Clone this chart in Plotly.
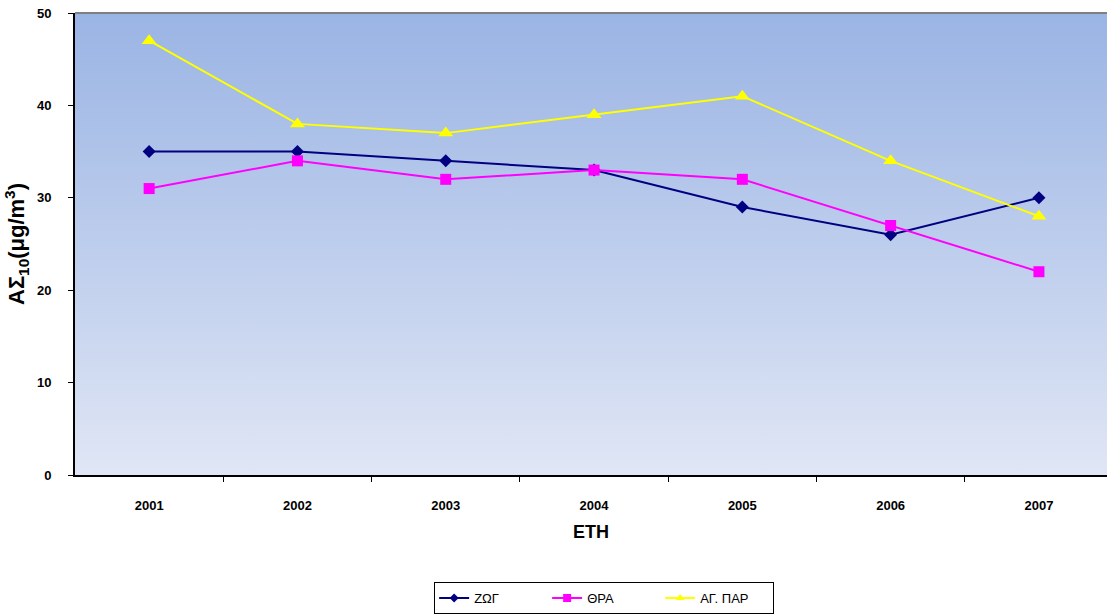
import plotly.graph_objects as go

# Annual mean PM10 concentrations per station
years = ["2001", "2002", "2003", "2004", "2005", "2006", "2007"]
zog = [35, 35, 34, 33, 29, 26, 30]
thra = [31, 34, 32, 33, 32, 27, 22]
ag_par = [47, 38, 37, 39, 41, 34, 28]

FONT = "Arial, 'Liberation Sans', sans-serif"
x_idx = list(range(len(years)))
x_max = 6.459  # right edge of the visible plot area (category units)

series = [
    ("ΖΩΓ", zog, "#000080", "diamond", 10, 7),
    ("ΘΡΑ", thra, "#ff00ff", "square", 11, 8),
    ("ΑΓ. ΠΑΡ", ag_par, "#ffff00", "triangle-up", 13, 8),
]

fig = go.Figure()

# Vertical gradient background filling the plot area
fig.add_trace(go.Scatter(
    x=[-0.5, x_max, x_max, -0.5, -0.5],
    y=[0, 0, 50, 50, 0],
    mode="lines", line=dict(width=0), fill="toself",
    fillgradient=dict(type="vertical",
                      colorscale=[[0, "#e0e6f5"], [1, "#9ab4e4"]]),
    hoverinfo="skip", showlegend=False,
))

for name, vals, color, symbol, size, legend_size in series:
    fig.add_trace(go.Scatter(
        x=x_idx, y=vals, name=name, mode="lines+markers",
        legendgroup=name, showlegend=False,
        line=dict(color=color, width=2),
        marker=dict(symbol=symbol, size=size, color=color),
    ))
    # legend entry with smaller marker
    fig.add_trace(go.Scatter(
        x=[None], y=[None], name=name, mode="lines+markers",
        legendgroup=name, showlegend=True,
        line=dict(color=color, width=2),
        marker=dict(symbol=symbol, size=legend_size, color=color),
    ))

# Grey frame line along the top of the plot area
fig.add_shape(type="line", xref="paper", yref="paper", x0=0, x1=1, y0=1, y1=1,
              line=dict(color="#808080", width=2))

fig.update_layout(
    width=1107, height=614,
    margin=dict(l=75, r=0, t=13, b=137),
    paper_bgcolor="white", plot_bgcolor="white",
    font=dict(family=FONT, color="black"),
    showlegend=True,
    legend=dict(
        orientation="h", xref="paper", yref="paper",
        x=0.348, xanchor="left", y=-0.232, yanchor="top",
        entrywidth=68, entrywidthmode="pixels",
        bordercolor="black", borderwidth=1, bgcolor="white",
        font=dict(size=13, family=FONT),
    ),
    xaxis=dict(
        range=[-0.5, x_max], showgrid=False, zeroline=False,
        tickmode="array", tickvals=x_idx, ticktext=years,
        ticks="", ticklabelstandoff=17,
        tickfont=dict(size=13, family=FONT, weight="bold"),
        minor=dict(tickmode="array", tickvals=[i + 0.5 for i in x_idx],
                   ticks="outside", ticklen=5, tickcolor="black"),
        showline=True, linecolor="black", linewidth=2,
        title=dict(text="<b>ΕΤΗ</b>", font=dict(size=18, family=FONT), standoff=14),
    ),
    yaxis=dict(
        range=[0, 50], tickvals=[0, 10, 20, 30, 40, 50], showgrid=False,
        zeroline=False, ticks="outside", ticklen=5, tickcolor="black",
        ticklabelstandoff=14,
        tickfont=dict(size=13, family=FONT, weight="bold"),
        showline=True, linecolor="black", linewidth=2,
        title=dict(text="<b>ΑΣ<sub>10</sub>(μg/m<sup>3</sup>)</b>",
                   font=dict(size=22, family=FONT), standoff=6),
    ),
)

fig.write_html("out.html")
